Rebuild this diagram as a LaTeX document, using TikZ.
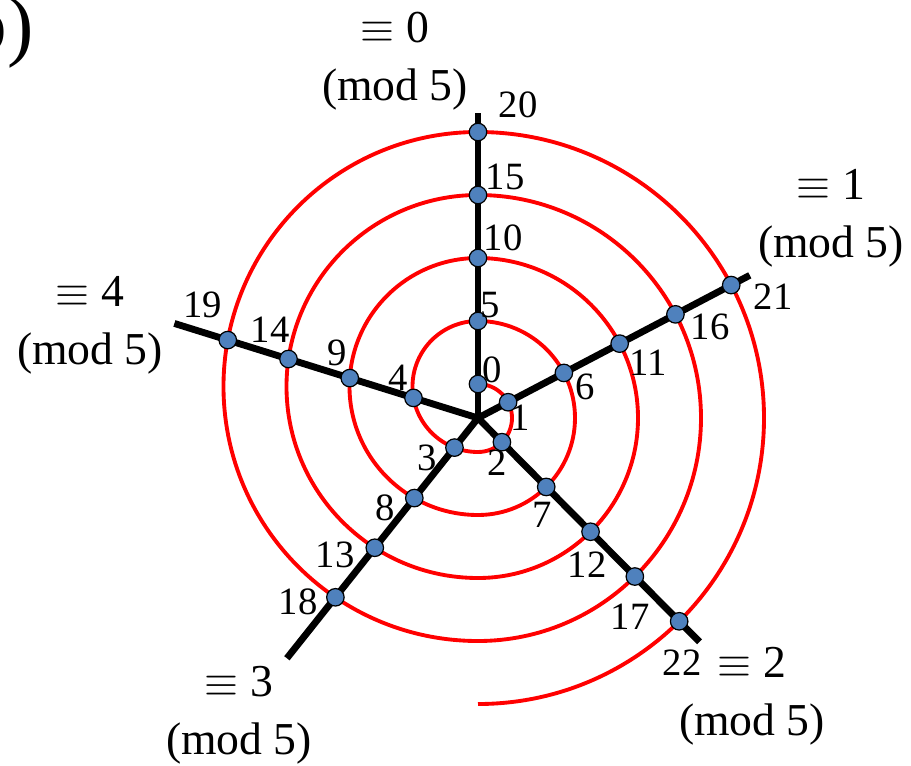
\documentclass[tikz,border=0pt]{standalone}
\usepackage{fontspec}
\setmainfont{Liberation Serif}
\usetikzlibrary{positioning}

\definecolor{dotblue}{RGB}{79,129,189}

\begin{document}
\begin{tikzpicture}[
  x=0.02cm, y=0.02cm,
  spiral/.style={draw=red, line width=2.2pt},
  spoke/.style={draw, line width=3.9pt},
  dot/.style={circle, draw, line width=0.7pt, fill=dotblue, minimum size=0.35cm, inner sep=0pt},
  num/.style={font=\fontsize{22}{26}\selectfont, inner sep=0pt},
  grp/.style={align=center, font=\fontsize{26}{33}\selectfont, inner sep=0pt}
]
\useasboundingbox (-478,-347) rectangle (433,418);

% hub and spoke ends
\coordinate (c) at (0,0);
\coordinate (e0) at (90:305);
\coordinate (e1) at (27.7:307);
\coordinate (e2) at (-45.3:315);
\coordinate (e3) at (-128.5:307);
\coordinate (e4) at (162.7:318);

% spiral: right halves round the hub, left halves round a raised centre
\draw[spiral] (0,34)
  arc[start angle=90, end angle=-90, radius=34]
  arc[start angle=-90, end angle=-270, radius=65.5]
  arc[start angle=90, end angle=-90, radius=97]
  arc[start angle=-90, end angle=-270, radius=128.5]
  arc[start angle=90, end angle=-90, radius=160]
  arc[start angle=-90, end angle=-270, radius=191.5]
  arc[start angle=90, end angle=-90, radius=223]
  arc[start angle=-90, end angle=-270, radius=254.5]
  arc[start angle=90, end angle=-90, radius=286];

\draw[spoke] (c) -- (e0);
\draw[spoke] (c) -- (e1);
\draw[spoke] (c) -- (e2);
\draw[spoke] (c) -- (e3);
\draw[spoke] (c) -- (e4);

% points on the spokes
\foreach \n/\a/\r in {0/90/34, 5/90/97, 10/90/160, 15/90/223, 20/90/286,
    1/27.7/34, 6/27.7/97, 11/27.7/160, 16/27.7/223, 21/27.7/286,
    2/-45.3/34, 7/-45.3/97, 12/-45.3/160, 17/-45.3/223, 22/-45.3/286,
    3/-128.5/37.8, 8/-128.5/102.3, 13/-128.5/165.8, 18/-128.5/229.1,
    4/162.7/67.6, 9/162.7/134.3, 14/162.7/198.5, 19/162.7/262.1}
  \node[dot] (d\n) at (\a:\r) {};

% numbers
\foreach \n/\x/\y in {0/14/48, 1/42/0, 2/19/-45, 3/-51/-40, 4/-80/40,
    5/12/113, 6/107/31, 7/64/-97, 8/-93/-90, 9/-141/65,
    10/25/180, 11/170/55, 12/109/-147, 13/-143/-137, 14/-208/88,
    15/27/241, 16/232/91, 17/152/-199, 18/-180/-184, 19/-275/113,
    20/40/313, 21/295/121, 22/204/-245}
  \node[num] (n\n) at (\x,\y) {\n};

% residue classes
\node[grp] (g0) at (-83,357) {$\equiv$ 0\\(mod 5)};
\node[grp] (g1) at (353,200) {$\equiv$ 1\\(mod 5)};
\node[grp] (g2) at (274,-278) {$\equiv$ 2\\(mod 5)};
\node[grp] (g3) at (-239,-297) {$\equiv$ 3\\(mod 5)};
\node[grp] (g4) at (-388,93) {$\equiv$ 4\\(mod 5)};

\node[anchor=base east, inner sep=0pt, font=\fontsize{45}{50}\selectfont] (tag) at (-444,367) {(b)};
\end{tikzpicture}
\end{document}
